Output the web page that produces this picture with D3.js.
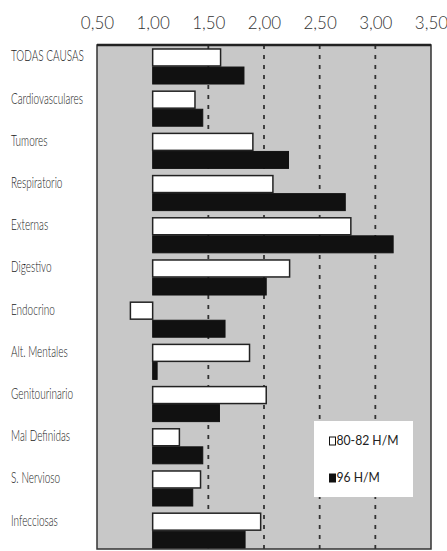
<!DOCTYPE html>
<html>
<head>
<meta charset="utf-8">
<script src="https://cdn.jsdelivr.net/npm/d3@7"></script>
<style>
  body { margin: 0; background: #fff; }
  svg { display: block; }
  .cat { font-family: "Lato", "Open Sans", sans-serif; font-weight: 300; font-size: 15.5px; fill: #1a1a1a; }
  .tick text { font-family: "Lato", "Open Sans", sans-serif; font-weight: 300; font-size: 17px; fill: #333; }
  .legend text { font-family: "Lato", "Open Sans", sans-serif; font-weight: 400; font-size: 14px; fill: #222; }
</style>
</head>
<body>
<svg id="chart"></svg>
<script>
// Razón de mortalidad por causas (H/M)
const categories = ['TODAS CAUSAS', 'Cardiovasculares', 'Tumores', 'Respiratorio', 'Externas', 'Digestivo',
  'Endocrino', 'Alt. Mentales', 'Genitourinario', 'Mal Definidas', 'S. Nervioso', 'Infecciosas'];
const values8082 = [1.61, 1.38, 1.90, 2.08, 2.78, 2.23, 0.80, 1.87, 2.02, 1.24, 1.43, 1.97];
const values96 = [1.82, 1.45, 2.22, 2.73, 3.16, 2.02, 1.65, 1.04, 1.60, 1.45, 1.36, 1.83];
const seriesNames = ['80-82 H/M', '96 H/M'];
const tickValues = [0.5, 1.0, 1.5, 2.0, 2.5, 3.0, 3.5];
const gridValues = [1.5, 2.0, 2.5, 3.0];

const W = 447, H = 551;
const plot = { left: 97, right: 431, top: 45, bottom: 549 };

const svg = d3.select('#chart').attr('width', W).attr('height', H);

const x = d3.scaleLinear().domain([0.5, 3.5]).range([plot.left, plot.right]);

// rows of 42.2px, first white bar at y=49
const step = 42.2;
const y = d3.scaleBand()
  .domain(categories)
  .range([45.4, 45.4 + step * categories.length])
  .paddingInner(0.17)
  .paddingOuter(0.085);

const ySub = d3.scaleBand()
  .domain(seriesNames)
  .range([0, y.bandwidth()])
  .paddingInner(0.06);

// plot background
svg.append('rect')
  .attr('x', plot.left).attr('y', plot.top)
  .attr('width', plot.right - plot.left).attr('height', plot.bottom - plot.top)
  .attr('fill', '#c8c8c8');

svg.append('clipPath').attr('id', 'clip')
  .append('rect')
  .attr('x', plot.left).attr('y', plot.top)
  .attr('width', plot.right - plot.left).attr('height', plot.bottom - plot.top);

const g = svg.append('g').attr('clip-path', 'url(#clip)');

// dotted gridlines
g.selectAll('line.grid')
  .data(gridValues)
  .enter()
  .append('line')
  .attr('class', 'grid')
  .attr('x1', d => x(d)).attr('x2', d => x(d))
  .attr('y1', plot.top).attr('y2', plot.bottom)
  .attr('stroke', '#333')
  .attr('stroke-width', 1.8)
  .attr('stroke-dasharray', '4,6');

const rows = categories.map((c, i) => ({ cat: c, v1: values8082[i], v2: values96[i] }));

// white bars (80-82)
g.selectAll('rect.w')
  .data(rows)
  .enter()
  .append('rect')
  .attr('class', 'w')
  .attr('x', d => x(Math.min(1, d.v1)))
  .attr('y', d => y(d.cat) + ySub(seriesNames[0]))
  .attr('width', d => Math.abs(x(d.v1) - x(1)))
  .attr('height', ySub.bandwidth())
  .attr('fill', '#fff')
  .attr('stroke', '#222')
  .attr('stroke-width', 1.5);

// black bars (96)
g.selectAll('rect.b')
  .data(rows)
  .enter()
  .append('rect')
  .attr('class', 'b')
  .attr('x', d => x(Math.min(1, d.v2)))
  .attr('y', d => y(d.cat) + ySub(seriesNames[1]))
  .attr('width', d => Math.abs(x(d.v2) - x(1)))
  .attr('height', ySub.bandwidth())
  .attr('fill', '#111')
  .attr('stroke', '#111')
  .attr('stroke-width', 1);

// frame
svg.append('rect')
  .attr('x', plot.left).attr('y', plot.top)
  .attr('width', plot.right - plot.left).attr('height', plot.bottom - plot.top)
  .attr('fill', 'none')
  .attr('stroke', '#333')
  .attr('stroke-width', 1.5);
svg.append('line')
  .attr('x1', plot.left).attr('x2', plot.right)
  .attr('y1', plot.top).attr('y2', plot.top)
  .attr('stroke', '#222').attr('stroke-width', 2.5);

// top axis with comma decimals
const locale = d3.formatLocale({ decimal: ',', thousands: '.', grouping: [3], currency: ['', ' €'] });
const xAxis = d3.axisTop(x)
  .tickValues(tickValues)
  .tickFormat(locale.format('.2f'))
  .tickSize(0)
  .tickPadding(16);

svg.append('g')
  .attr('transform', `translate(0,${plot.top})`)
  .call(xAxis)
  .call(s => s.select('.domain').remove());

// category labels, condensed horizontally like the original typeface
const labels = svg.selectAll('text.cat')
  .data(categories)
  .enter()
  .append('text')
  .attr('class', 'cat')
  .attr('dominant-baseline', 'middle')
  .text(d => d);

const refWidth = labels.filter(d => d === 'Cardiovasculares').node().getComputedTextLength();
const squeeze = 72 / refWidth;
labels.attr('transform', d => `translate(11,${y(d) + ySub(seriesNames[0]) + ySub.bandwidth() / 2}) scale(${squeeze},1)`);

// legend
const legend = svg.append('g').attr('class', 'legend');
legend.append('rect')
  .attr('x', 314).attr('y', 421)
  .attr('width', 99).attr('height', 76)
  .attr('fill', '#fff');

const legItems = legend.selectAll('g.item')
  .data(seriesNames)
  .enter()
  .append('g')
  .attr('class', 'item')
  .attr('transform', (d, i) => `translate(329,${441 + i * 37})`);

legItems.append('rect')
  .attr('x', 0.5).attr('y', -4)
  .attr('width', 6).attr('height', 8)
  .attr('fill', (d, i) => i === 0 ? '#fff' : '#111')
  .attr('stroke', '#111')
  .attr('stroke-width', 1);

const legTexts = legItems.append('text')
  .attr('dominant-baseline', 'middle')
  .text(d => d);
const legSqueeze = 62 / legTexts.filter(d => d === seriesNames[0]).node().getComputedTextLength();
legTexts.attr('transform', `translate(7.5,0) scale(${legSqueeze},1)`);
</script>
</body>
</html>
